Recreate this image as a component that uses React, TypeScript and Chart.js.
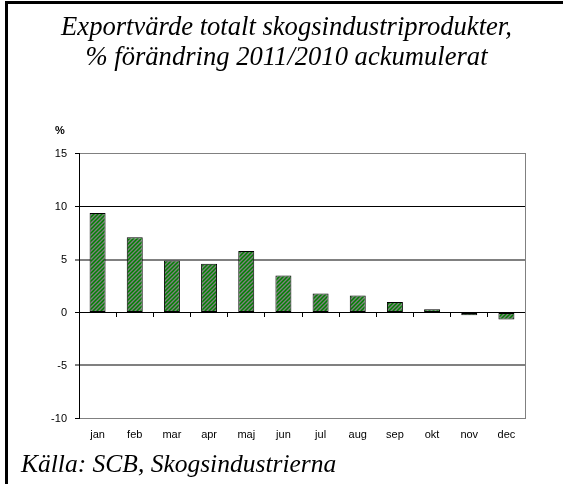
import React, { useEffect, useRef } from 'react';
import { Chart, registerables } from 'chart.js';

Chart.register(...registerables);

const months = ['jan', 'feb', 'mar', 'apr', 'maj', 'jun', 'jul', 'aug', 'sep', 'okt', 'nov', 'dec'];
const values = [9.4, 7.1, 4.9, 4.6, 5.8, 3.5, 1.8, 1.6, 1.0, 0.3, -0.25, -0.65];
const titleLines = ['Exportvärde totalt skogsindustriprodukter,', '% förändring 2011/2010 ackumulerat'];
const sourceText = 'Källa: SCB, Skogsindustrierna';
const unitLabel = '%';
const yMin = -10;
const yMax = 15;
const yStep = 5;

const SANS = '"Liberation Sans", Arial, sans-serif';
const SERIF = '"Liberation Serif", "Times New Roman", serif';

function makePattern(target: CanvasRenderingContext2D) {
  const c = document.createElement('canvas');
  c.width = 4;
  c.height = 4;
  const g = c.getContext('2d')!;
  g.fillStyle = '#808080';
  g.fillRect(0, 0, 4, 4);
  g.strokeStyle = '#008000';
  g.lineWidth = 1.5;
  g.beginPath();
  g.moveTo(-1, 5);
  g.lineTo(5, -1);
  g.moveTo(-1, 1);
  g.lineTo(1, -1);
  g.moveTo(3, 5);
  g.lineTo(5, 3);
  g.stroke();
  return target.createPattern(c, 'repeat');
}

const unitPlugin = {
  id: 'unitLabel',
  afterDraw(chart: any) {
    const { ctx, chartArea } = chart;
    ctx.save();
    ctx.font = 'bold 11px ' + SANS;
    ctx.fillStyle = '#000';
    ctx.textAlign = 'center';
    ctx.textBaseline = 'middle';
    ctx.fillText(unitLabel, chartArea.left - 19, chartArea.top - 22.5);
    ctx.restore();
  },
};

function gridColor(v: number) {
  if (v === 0 || v === 10) return '#000';
  return '#808080';
}
function gridWidth(v: number) {
  if (v === 5 || v === -5) return 2;
  return 1;
}

export default function App() {
  const ref = useRef<HTMLCanvasElement>(null);

  useEffect(() => {
    const canvas = ref.current!;
    const ctx = canvas.getContext('2d')!;
    const pattern = makePattern(ctx);
    const chart = new Chart(canvas, {
      type: 'bar',
      data: {
        labels: months,
        datasets: [
          {
            data: values,
            backgroundColor: pattern as any,
            borderColor: '#000',
            borderWidth: 1,
            borderSkipped: false,
            categoryPercentage: 1,
            barPercentage: 0.43,
            xAxisID: 'x',
            yAxisID: 'y',
          },
        ],
      },
      options: {
        responsive: false,
        animation: false,
        devicePixelRatio: 1,
        layout: { padding: { left: 21, right: 13, top: 0, bottom: 0 } },
        plugins: {
          legend: { display: false },
          tooltip: { enabled: false },
          title: {
            display: true,
            text: titleLines,
            color: '#000',
            font: { family: SERIF, size: 26.6, style: 'italic', weight: 'normal', lineHeight: 1.12 },
            padding: { top: 13, bottom: 81 },
          },
          subtitle: {
            display: true,
            text: sourceText,
            position: 'bottom',
            align: 'start',
            color: '#000',
            font: { family: SERIF, size: 25.5, style: 'italic', weight: 'normal', lineHeight: 1.15 },
            padding: { top: 0, bottom: 4 },
          },
        },
        scales: {
          x: {
            type: 'category',
            position: 'bottom',
            grid: { display: false, drawTicks: false },
            border: { display: true, color: '#808080', width: 1 },
            ticks: {
              color: '#000',
              font: { family: SANS, size: 11 },
              padding: 9.5,
              maxRotation: 0,
              autoSkip: false,
            },
          },
          x2: {
            type: 'category',
            axis: 'x',
            labels: months,
            position: { y: 0 },
            offset: true,
            grid: {
              display: true,
              drawOnChartArea: false,
              drawTicks: true,
              tickLength: 4,
              color: '#000',
              offset: true,
            },
            border: { display: true, color: '#000', width: 1 },
            ticks: { display: false },
            afterFit: (s: any) => {
              s.height = 0;
            },
          },
          y: {
            type: 'linear',
            position: 'left',
            min: yMin,
            max: yMax,
            ticks: {
              stepSize: yStep,
              color: '#000',
              font: { family: SANS, size: 11 },
              padding: 8,
            },
            grid: {
              color: (c: any) => gridColor(c.tick ? c.tick.value : 0),
              lineWidth: (c: any) => gridWidth(c.tick ? c.tick.value : 0),
              tickLength: 4,
              tickColor: '#000',
              tickWidth: 1,
            },
            border: { display: true, color: '#000', width: 1 },
            afterFit: (s: any) => {
              s.width = 58;
            },
          },
          yR: {
            type: 'linear',
            axis: 'y',
            position: 'right',
            min: yMin,
            max: yMax,
            ticks: { display: false },
            grid: { display: false, drawTicks: false },
            border: { display: true, color: '#808080', width: 1 },
            afterFit: (s: any) => {
              s.width = 27;
            },
          },
        },
      } as any,
      plugins: [unitPlugin],
    });
    return () => chart.destroy();
  }, []);

  return (
    <div style={{ position: 'absolute', left: 0, top: 0, width: 565, height: 484, background: '#fff' }}>
      <canvas ref={ref} width={565} height={484} style={{ display: 'block', width: 565, height: 484 }} />
      <div
        style={{
          position: 'absolute',
          left: 5,
          top: 1,
          width: 558,
          height: 483,
          borderTop: '3px solid #000',
          borderLeft: '3px solid #000',
          boxSizing: 'border-box',
          pointerEvents: 'none',
        }}
      />
    </div>
  );
}
